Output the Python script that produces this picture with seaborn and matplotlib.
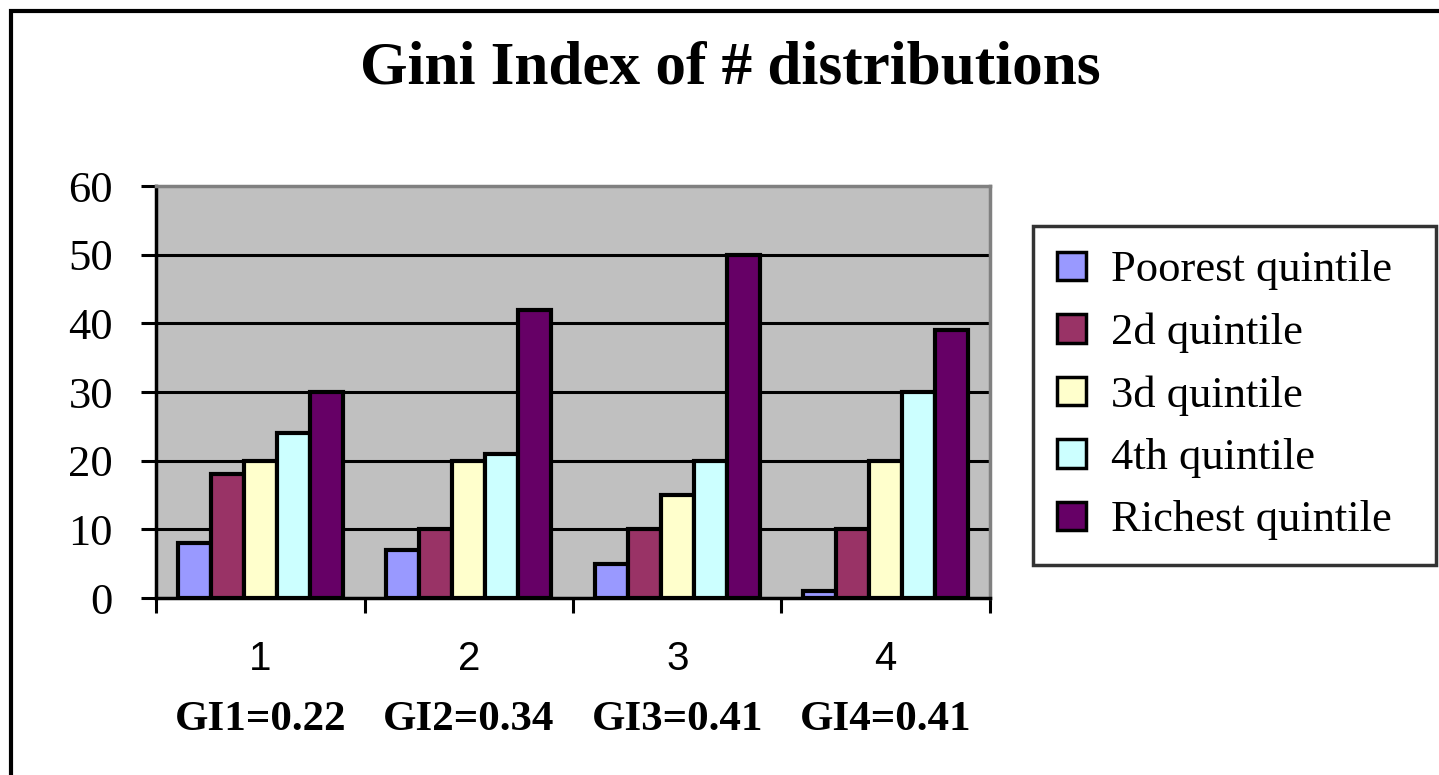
import matplotlib
matplotlib.use("Agg")
import matplotlib.pyplot as plt
import seaborn as sns
import pandas as pd
from matplotlib.patches import Rectangle

groups = ["1", "2", "3", "4"]
gini_labels = ["GI1=0.22", "GI2=0.34", "GI3=0.41", "GI4=0.41"]
series = ["Poorest quintile", "2d quintile", "3d quintile", "4th quintile", "Richest quintile"]
poorest = [8, 7, 5, 1]
second = [18, 10, 10, 10]
third = [20, 20, 15, 20]
fourth = [24, 21, 20, 30]
richest = [30, 42, 50, 39]
colors = ["#9999FF", "#993366", "#FFFFCC", "#CCFFFF", "#660066"]
title = "Gini Index of # distributions"
yticks = [0, 10, 20, 30, 40, 50, 60]

values = [poorest, second, third, fourth, richest]
rows = []
for s, vals in zip(series, values):
    for g, v in zip(groups, vals):
        rows.append({"group": g, "series": s, "value": v})
df = pd.DataFrame(rows)

sns.set_theme(style="white")
plt.rcParams["font.family"] = ["Liberation Serif", "DejaVu Serif"]
plt.rcParams["text.color"] = "black"
plt.rcParams["xtick.color"] = "black"
plt.rcParams["ytick.color"] = "black"
plt.rcParams["xtick.labelcolor"] = "black"
plt.rcParams["ytick.labelcolor"] = "black"

fig = plt.figure(figsize=(14.39, 7.75), dpi=100)
ax = fig.add_axes([156/1439, 1-598/775, (990-156)/1439, (598-186)/775])
ax.set_facecolor("#C0C0C0")

sns.barplot(data=df, x="group", y="value", hue="series", order=groups,
            hue_order=series, palette=colors, width=0.79, gap=0,
            edgecolor="black", linewidth=3, saturation=1, ax=ax, zorder=3)

ax.set_ylim(0, 60)
ax.set_xlim(-0.5, 3.5)
ax.set_yticks(yticks)
ax.set_yticklabels([str(t) for t in yticks], fontsize=32)
for t in yticks[1:-1]:
    ax.axhline(t, color="black", lw=2.2, zorder=1)
ax.set_axisbelow(True)

ax.set_xticks([-0.5, 0.5, 1.5, 2.5, 3.5])
ax.set_xticklabels([])
ax.set_xticks([0, 1, 2, 3], minor=True)
ax.set_xticklabels(groups, minor=True, fontsize=29, family=["Liberation Sans", "DejaVu Sans"])
ax.tick_params(axis="x", which="major", direction="out", length=11, width=2.2, color="black", bottom=True)
ax.tick_params(axis="x", which="minor", length=0, pad=30)
ax.tick_params(axis="y", direction="out", length=11, width=2.2, color="black", left=True, pad=20)
ax.set_xlabel("")
ax.set_ylabel("")

for i, lab in enumerate(gini_labels):
    ax.text(i, -0.295, lab, transform=ax.get_xaxis_transform(), ha="center", va="center",
            fontsize=31, fontweight="bold")

for side in ["left", "bottom"]:
    ax.spines[side].set_color("black")
    ax.spines[side].set_linewidth(2.5)
for side in ["top", "right"]:
    ax.spines[side].set_color("#808080")
    ax.spines[side].set_linewidth(2.5)
    ax.spines[side].set_visible(True)

fig.text(730/1439, 1-68/775, title, ha="center", va="center", fontsize=44, fontweight="bold")

leg = ax.legend(title=None, loc="upper left", bbox_to_anchor=(1033/1439, 1-546/775, 403/1439, 320/775),
                bbox_transform=fig.transFigure, mode="expand", fontsize=32, frameon=True,
                fancybox=False, edgecolor="black", handlelength=0.65, handleheight=0.6,
                handletextpad=0.55, labelspacing=0.5, borderpad=0.55, borderaxespad=0)
leg.get_frame().set_linewidth(2.5)
leg.get_frame().set_facecolor("white")
for h in leg.legend_handles:
    h.set_linewidth(2.5)

fig.patches.append(Rectangle((11/1439, -0.2), 2.0, 1.2 - 11/775, transform=fig.transFigure,
                             fill=False, edgecolor="black", linewidth=3))

fig.savefig("out.png", dpi=100)
